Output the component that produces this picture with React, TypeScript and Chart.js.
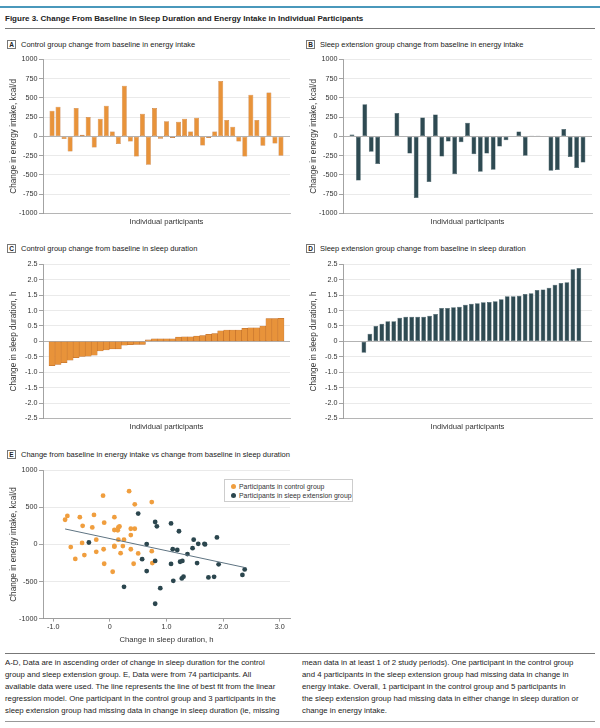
import React, { useEffect, useRef } from 'react';
import { Chart, registerables } from 'chart.js';

Chart.register(...registerables);

const FONT = "'Liberation Sans', Arial, sans-serif";

// ---------- Data ----------
// Control group, ascending order of change in sleep duration (h)
const controlSleepChange = [
  -0.79, -0.75, -0.69, -0.61, -0.53, -0.49, -0.48, -0.45, -0.31, -0.28,
  -0.24, -0.24, -0.12, -0.11, -0.1, -0.1, 0.05, 0.08, 0.08, 0.08,
  0.08, 0.14, 0.15, 0.15, 0.17, 0.19, 0.23, 0.25, 0.34, 0.37,
  0.37, 0.37, 0.42, 0.44, 0.44, 0.5, 0.74, 0.74, 0.75,
];
// Control group change in energy intake (kcal/d), same participant order
const controlEnergyChange = [
  333, 385, -35, -195, 368, 20, 251, -143, 229, 398,
  65, -100, 658, -65, -260, 294, -368, 368, -30, 195,
  -20, 190, 229, 65, 242, -117, -22, 65, 718, 212,
  126, -65, -260, 541, 212, -121, 571, -91, -251,
];
// Sleep extension group, ascending order of change in sleep duration (h)
const extSleepChange = [
  -0.37, 0.25, 0.5, 0.57, 0.65, 0.65, 0.77, 0.8, 0.8, 0.8,
  0.8, 0.83, 0.89, 1.08, 1.08, 1.11, 1.12, 1.19, 1.22, 1.24,
  1.27, 1.28, 1.3, 1.37, 1.46, 1.46, 1.48, 1.54, 1.56, 1.67,
  1.68, 1.74, 1.84, 1.89, 1.92, 2.34, 2.38,
];
// Sleep extension group change in energy intake (kcal/d); null = missing
const extEnergyChange: (number | null)[] = [
  26, -571, 416, -199, -359, 5, null, 303, null, -222,
  -800, 245, -590, 284, -262, -65, -490, -75, 178, -233,
  -458, -222, -434, -130, -50, null, 65, -251, 8, 8,
  0, -445, -437, 95, -268, -411, -337,
];

const energyTicks = [-1000, -750, -500, -250, 0, 250, 500, 750, 1000];
const sleepTicks = [-2.5, -2, -1.5, -1, -0.5, 0, 0.5, 1, 1.5, 2, 2.5];
const scatterEnergyTicks = [-1000, -500, 0, 500, 1000];
const scatterSleepTicks = [-1, 0, 1, 2, 3];

// ---------- Styles ----------
const ORANGE = '#E8933A';
const ORANGE_EDGE = '#B9692A';
const ORANGE_DOT = '#F09E3E';
const SLATE = '#2E4A52';
const SLATE_DOT = '#2B464E';
const TEXT = '#333';
const AXIS = '#8c8c8c';
const GRID = '#e4e4e4';

const tickFont = { family: FONT, size: 7.2 };
const xTitleFont = { family: FONT, size: 7.7 };
const yTitleFont = { family: FONT, size: 8.2 };

const fmtInt = (v: number) => String(v);
const fmtSleep = (v: number) => (v === 0 ? '0' : v.toFixed(1));
const fmtX = (v: number) => (v === 0 ? '0' : v.toFixed(1));

function setTicks(list: number[]) {
  return (axis: any) => {
    axis.ticks = list.map((v) => ({ value: v }));
  };
}

function yAxis(min: number, max: number, ticks: number[], fmt: (v: number) => string, title: string, zeroDark: boolean) {
  return {
    type: 'linear',
    min,
    max,
    afterBuildTicks: setTicks(ticks),
    afterFit: (s: any) => {
      s.width = 43;
    },
    ticks: {
      font: tickFont,
      color: TEXT,
      padding: 1.5,
      callback: (v: any) => fmt(Number(v)),
    },
    grid: {
      color: (ctx: any) => (zeroDark && ctx.tick && ctx.tick.value === 0 ? '#a0a0a0' : GRID),
      lineWidth: 0.8,
      tickLength: 4,
      tickColor: AXIS,
      tickWidth: 0.8,
    },
    border: { display: true, color: AXIS, width: 0.8 },
    title: {
      display: true,
      text: title,
      font: yTitleFont,
      color: TEXT,
      padding: { top: 9, bottom: 0 },
    },
  };
}

function barConfig(
  values: (number | null)[],
  fill: string,
  edge: string,
  barPct: number,
  xMin: number,
  xMax: number,
  yMin: number,
  yMax: number,
  ticks: number[],
  fmt: (v: number) => string,
  yTitle: string,
  rightPad: number
) {
  const points: { x: number; y: number }[] = [];
  values.forEach((v, i) => {
    if (v !== null) points.push({ x: i + 1, y: v });
  });
  return {
    type: 'bar',
    data: {
      datasets: [
        {
          data: points,
          backgroundColor: fill,
          borderColor: edge,
          borderWidth: 0.5,
          borderSkipped: false,
          barPercentage: barPct,
          categoryPercentage: 1,
        },
      ],
    },
    options: {
      animation: false,
      responsive: true,
      maintainAspectRatio: false,
      layout: { padding: { top: 7.3, right: rightPad, bottom: 0, left: 0 } },
      plugins: { legend: { display: false }, tooltip: { enabled: false } },
      scales: {
        x: {
          type: 'linear',
          min: xMin,
          max: xMax,
          offset: false,
          afterFit: (s: any) => {
            s.height = 13.5;
          },
          ticks: { display: false },
          grid: { display: false, offset: false },
          border: { display: true, color: '#a8a8a8', width: 0.8 },
          title: {
            display: true,
            text: 'Individual participants',
            font: xTitleFont,
            color: TEXT,
            padding: { top: 0, bottom: 0 },
          },
        },
        y: yAxis(yMin, yMax, ticks, fmt, yTitle, true),
      },
    },
  };
}

function linearFit(xs: number[], ys: number[]) {
  const n = xs.length;
  const mx = xs.reduce((a, b) => a + b, 0) / n;
  const my = ys.reduce((a, b) => a + b, 0) / n;
  let sxy = 0;
  let sxx = 0;
  for (let i = 0; i < n; i++) {
    sxy += (xs[i] - mx) * (ys[i] - my);
    sxx += (xs[i] - mx) * (xs[i] - mx);
  }
  const slope = sxy / sxx;
  return { slope, intercept: my - slope * mx };
}

function scatterConfig() {
  const controlPts = controlSleepChange.map((x, i) => ({ x, y: controlEnergyChange[i] }));
  const extPts: { x: number; y: number }[] = [];
  extSleepChange.forEach((x, i) => {
    const y = extEnergyChange[i];
    if (y !== null) extPts.push({ x, y });
  });
  const all = [...controlPts, ...extPts];
  const { slope, intercept } = linearFit(
    all.map((p) => p.x),
    all.map((p) => p.y)
  );
  const xLo = Math.min(...all.map((p) => p.x));
  const xHi = Math.max(...all.map((p) => p.x));
  const fitLine = [
    { x: xLo, y: intercept + slope * xLo },
    { x: xHi, y: intercept + slope * xHi },
  ];
  return {
    type: 'scatter',
    data: {
      datasets: [
        {
          type: 'line',
          data: fitLine,
          borderColor: '#5f7482',
          borderWidth: 1,
          pointRadius: 0,
          fill: false,
          order: 0,
        },
        {
          label: 'Participants in control group',
          data: controlPts,
          backgroundColor: ORANGE_DOT,
          borderWidth: 0,
          pointRadius: 2.4,
          order: 2,
        },
        {
          label: 'Participants in sleep extension group',
          data: extPts,
          backgroundColor: SLATE_DOT,
          borderWidth: 0,
          pointRadius: 2.4,
          order: 1,
        },
      ],
    },
    options: {
      animation: false,
      responsive: true,
      maintainAspectRatio: false,
      layout: { padding: { top: 7.3, right: 10, bottom: 0, left: 0 } },
      plugins: { legend: { display: false }, tooltip: { enabled: false } },
      scales: {
        x: {
          type: 'linear',
          min: -1.18,
          max: 3.18,
          afterBuildTicks: setTicks(scatterSleepTicks),
          afterFit: (s: any) => {
            s.height = 26;
          },
          ticks: {
            font: tickFont,
            color: TEXT,
            padding: 1,
            maxRotation: 0,
            callback: (v: any) => fmtX(Number(v)),
          },
          grid: {
            drawOnChartArea: false,
            drawTicks: true,
            tickLength: 3,
            tickColor: AXIS,
            tickWidth: 0.8,
          },
          border: { display: true, color: AXIS, width: 0.8 },
          title: {
            display: true,
            text: 'Change in sleep duration, h',
            font: xTitleFont,
            color: TEXT,
            padding: { top: 0, bottom: 0 },
          },
        },
        y: yAxis(-1000, 1000, scatterEnergyTicks, fmtInt, 'Change in energy intake, kcal/d', false),
      },
    },
  };
}

function ChartBox({ left, top, width, height, make }: { left: number; top: number; width: number; height: number; make: () => any }) {
  const ref = useRef<HTMLCanvasElement | null>(null);
  useEffect(() => {
    if (!ref.current) return;
    const chart = new Chart(ref.current, make());
    return () => chart.destroy();
  }, []);
  return (
    <div style={{ position: 'absolute', left, top, width, height }}>
      <canvas ref={ref} />
    </div>
  );
}

function PanelLabel({ x, y, letter, text }: { x: number; y: number; letter: string; text: string }) {
  return (
    <div style={{ position: 'absolute', left: x, top: y, height: 10, display: 'flex', alignItems: 'center', whiteSpace: 'nowrap' }}>
      <div
        style={{
          width: 9,
          height: 9,
          boxSizing: 'border-box',
          border: '0.8px solid #777',
          fontSize: 6.5,
          fontWeight: 700,
          lineHeight: '8px',
          textAlign: 'center',
          color: '#222',
        }}
      >
        {letter}
      </div>
      <div style={{ marginLeft: 5, fontSize: 7.5, color: '#222' }}>{text}</div>
    </div>
  );
}

const captionLeft = [
  'A-D, Data are in ascending order of change in sleep duration for the control',
  'group and sleep extension group. E, Data were from 74 participants. All',
  'available data were used. The line represents the line of best fit from the linear',
  'regression model. One participant in the control group and 3 participants in the',
  'sleep extension group had missing data in change in sleep duration (ie, missing',
];
const captionRight = [
  'mean data in at least 1 of 2 study periods). One participant in the control group',
  'and 4 participants in the sleep extension group had missing data in change in',
  'energy intake. Overall, 1 participant in the control group and 5 participants in',
  'the sleep extension group had missing data in either change in sleep duration or',
  'change in energy intake.',
];

export default function App() {
  return (
    <div
      style={{
        position: 'relative',
        width: 600,
        height: 728,
        background: '#fff',
        fontFamily: FONT,
        color: '#222',
        overflow: 'hidden',
      }}
    >
      <style>{'html,body{margin:0;padding:0;background:#fff;}'}</style>
      <div style={{ position: 'absolute', left: 0, top: 6, width: 600, height: 1.5, background: '#4a98bb' }} />
      <div style={{ position: 'absolute', left: 5, top: 13.5, fontSize: 8, fontWeight: 700, whiteSpace: 'nowrap', color: '#222' }}>
        Figure 3. Change From Baseline in Sleep Duration and Energy Intake in Individual Participants
      </div>
      <div style={{ position: 'absolute', left: 5, top: 27.5, width: 590, height: 1, background: '#777' }} />

      <PanelLabel x={7} y={39} letter="A" text="Control group change from baseline in energy intake" />
      <PanelLabel x={306} y={39} letter="B" text="Sleep extension group change from baseline in energy intake" />
      <PanelLabel x={7} y={243} letter="C" text="Control group change from baseline in sleep duration" />
      <PanelLabel x={306} y={243} letter="D" text="Sleep extension group change from baseline in sleep duration" />
      <PanelLabel x={7} y={449} letter="E" text="Change from baseline in energy intake vs change from baseline in sleep duration" />

      <ChartBox
        left={0}
        top={52}
        width={300}
        height={175}
        make={() =>
          barConfig(controlEnergyChange, ORANGE, ORANGE_EDGE, 0.82, -0.5, 40.5, -1000, 1000, energyTicks, fmtInt, 'Change in energy intake, kcal/d', 10)
        }
      />
      <ChartBox
        left={300}
        top={52}
        width={300}
        height={175}
        make={() =>
          barConfig(extEnergyChange, SLATE, SLATE, 0.74, -0.4, 38.4, -1000, 1000, energyTicks, fmtInt, 'Change in energy intake, kcal/d', 8)
        }
      />
      <ChartBox
        left={0}
        top={257}
        width={300}
        height={175}
        make={() =>
          barConfig(controlSleepChange, ORANGE, ORANGE_EDGE, 1, -0.5, 40.5, -2.5, 2.5, sleepTicks, fmtSleep, 'Change in sleep duration, h', 10)
        }
      />
      <ChartBox
        left={300}
        top={257}
        width={300}
        height={175}
        make={() =>
          barConfig(extSleepChange, SLATE, SLATE, 0.78, -2.5, 39.2, -2.5, 2.5, sleepTicks, fmtSleep, 'Change in sleep duration, h', 8)
        }
      />
      <ChartBox left={0} top={462.7} width={300} height={181.6} make={scatterConfig} />

      <div
        style={{
          position: 'absolute',
          left: 224,
          top: 479,
          width: 129,
          height: 23,
          boxSizing: 'border-box',
          border: '0.8px solid #cdcdcd',
          background: '#fff',
          fontSize: 6.9,
          color: '#333',
        }}
      >
        {[
          { c: ORANGE_DOT, t: 'Participants in control group' },
          { c: SLATE_DOT, t: 'Participants in sleep extension group' },
        ].map((e, i) => (
          <div key={i} style={{ position: 'absolute', left: 5.5, top: 2 + i * 9.5, height: 8, display: 'flex', alignItems: 'center', whiteSpace: 'nowrap' }}>
            <span style={{ width: 5, height: 5, borderRadius: '50%', background: e.c, display: 'inline-block' }} />
            <span style={{ marginLeft: 3.5 }}>{e.t}</span>
          </div>
        ))}
      </div>

      <div style={{ position: 'absolute', left: 5, top: 653, width: 590, height: 1, background: '#777' }} />
      <div style={{ position: 'absolute', left: 5, top: 657, fontSize: 7.8, lineHeight: '12px', color: '#222' }}>
        {captionLeft.map((l, i) => (
          <div key={i} style={{ whiteSpace: 'nowrap' }}>{l}</div>
        ))}
      </div>
      <div style={{ position: 'absolute', left: 302, top: 657, fontSize: 7.8, lineHeight: '12px', color: '#222' }}>
        {captionRight.map((l, i) => (
          <div key={i} style={{ whiteSpace: 'nowrap' }}>{l}</div>
        ))}
      </div>
      <div style={{ position: 'absolute', left: 5, top: 721, width: 590, height: 1, background: '#999' }} />
    </div>
  );
}
